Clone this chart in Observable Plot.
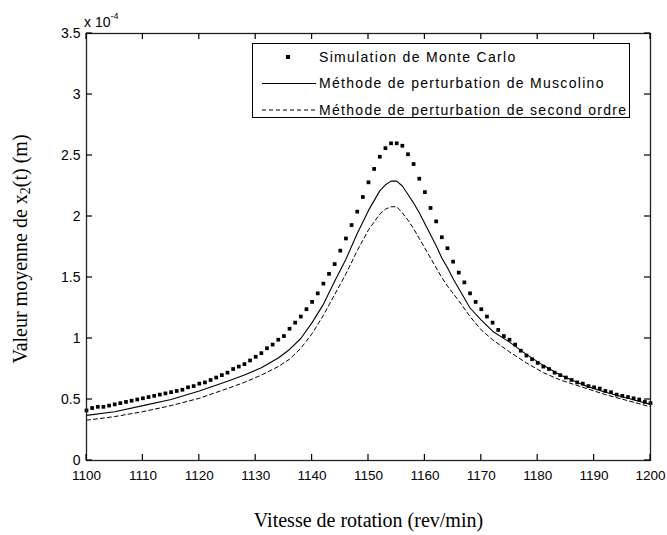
<!DOCTYPE html>
<html><head><meta charset="utf-8">
<script src="https://cdn.jsdelivr.net/npm/d3@7"></script>
<script src="https://cdn.jsdelivr.net/npm/@observablehq/plot@0.6"></script>
<style>body{margin:0;background:#fff} svg{display:block}</style>
</head><body><div id="chart"></div>
<script>
// ---- data (y in units of 1e-4 m) ----
const seriesNames = ["Simulation de Monte Carlo", "Méthode de perturbation de Muscolino", "Méthode de perturbation de second ordre"];

const mcSpeed = [1100,1101,1102,1103,1104,1105,1106,1107,1108,1109,1110,1111,1112,1113,1114,1115,1116,1117,1118,1119,
  1120,1121,1122,1123,1124,1125,1126,1127,1128,1129,1130,1131,1132,1133,1134,1135,1136,1137,1138,1139,
  1140,1141,1142,1143,1144,1145,1146,1147,1148,1149,1150,1151,1152,1153,1154,1155,1156,1157,1158,1159,
  1160,1161,1162,1163,1164,1165,1166,1167,1168,1169,1170,1171,1172,1173,1174,1175,1176,1177,1178,1179,
  1180,1181,1182,1183,1184,1185,1186,1187,1188,1189,1190,1191,1192,1193,1194,1195,1196,1197,1198,1199,1200];
const mcValue = [0.41,0.43,0.44,0.44,0.45,0.46,0.47,0.48,0.49,0.50,0.51,0.52,0.53,0.54,0.55,0.56,0.57,0.58,0.60,0.61,
  0.63,0.64,0.66,0.68,0.70,0.72,0.75,0.77,0.79,0.82,0.85,0.88,0.92,0.95,0.99,1.02,1.08,1.13,1.18,1.24,
  1.30,1.37,1.45,1.53,1.61,1.72,1.82,1.93,2.04,2.16,2.28,2.39,2.49,2.56,2.60,2.60,2.58,2.51,2.43,2.31,
  2.20,2.07,1.96,1.83,1.74,1.63,1.54,1.46,1.37,1.30,1.24,1.18,1.13,1.07,1.02,0.99,0.95,0.90,0.86,0.83,
  0.80,0.77,0.75,0.72,0.70,0.68,0.66,0.64,0.63,0.61,0.60,0.59,0.57,0.56,0.54,0.53,0.52,0.51,0.50,0.48,0.47];

const muscSpeed = [1100,1105,1110,1115,1120,1125,1128,1131,1134,1136,1138,1140,1142,1144,1146,1148,1150,1152,1153,1154,
  1155,1156,1157,1158,1159,1160,1161,1162,1163,1164,1165,1166,1168,1170,1172,1175,1178,1181,1184,1188,1192,1196,1200];
const muscValue = [0.37,0.40,0.45,0.50,0.57,0.65,0.70,0.76,0.84,0.91,1.00,1.13,1.28,1.47,1.65,1.86,2.05,2.21,2.26,2.29,
  2.29,2.25,2.18,2.11,2.03,1.94,1.85,1.76,1.66,1.58,1.49,1.41,1.25,1.15,1.06,0.97,0.87,0.78,0.70,0.62,0.56,0.51,0.46];

const secSpeed = [1100,1105,1110,1115,1120,1125,1128,1131,1134,1136,1138,1140,1142,1144,1146,1148,1150,1152,1153,1154,
  1155,1156,1157,1158,1159,1160,1161,1162,1163,1164,1166,1168,1170,1172,1175,1178,1181,1184,1188,1192,1196,1200];
const secValue = [0.33,0.36,0.40,0.45,0.51,0.59,0.64,0.70,0.77,0.83,0.92,1.04,1.19,1.36,1.53,1.72,1.89,2.02,2.06,2.08,
  2.08,2.03,1.97,1.90,1.82,1.74,1.66,1.58,1.50,1.43,1.31,1.18,1.07,0.99,0.89,0.80,0.72,0.66,0.60,0.54,0.49,0.44];

const xTicks = [1100,1110,1120,1130,1140,1150,1160,1170,1180,1190,1200];
const yTicks = [0,0.5,1,1.5,2,2.5,3,3.5];

// ---- tables ----
const mc = mcSpeed.map((s,i)=>({s, v: mcValue[i]}));
const musc = muscSpeed.map((s,i)=>({s, v: muscValue[i]}));
const sec = secSpeed.map((s,i)=>({s, v: secValue[i]}));

const sans = "Liberation Sans, Arial, sans-serif";
const serif = "Liberation Serif, Times New Roman, serif";
const W = 667, H = 535, mL = 86, mR = 17, mT = 33, mB = 75;
const tk = 6;

const chart = Plot.plot({
  width: W, height: H,
  marginLeft: mL, marginRight: mR, marginTop: mT, marginBottom: mB,
  style: {background: "#fff", color: "#000"},
  x: {domain: [1100, 1200]},
  y: {domain: [0, 3.5]},
  marks: [
    Plot.line(sec, {x: "s", y: "v", stroke: "#000", strokeWidth: 1, strokeDasharray: "4,3"}),
    Plot.line(musc, {x: "s", y: "v", stroke: "#000", strokeWidth: 1.1}),
    Plot.dot(mc, {x: "s", y: "v", symbol: "square", r: 2.1, fill: "#000", stroke: "none"}),
    Plot.frame({stroke: "#222", strokeWidth: 1.3}),
    Plot.axisX({ticks: xTicks, anchor: "bottom", tickSize: 0, tickPadding: 10, label: null, tickFormat: d => String(d), fontSize: 13.5, fontFamily: sans}),
    Plot.axisY({ticks: yTicks, anchor: "left", tickSize: 0, tickPadding: 6, label: null, tickFormat: d => String(d), fontSize: 14, fontFamily: sans}),
    Plot.text(["Vitesse de rotation (rev/min)"], {text: d => d, frameAnchor: "bottom", dy: 60, lineAnchor: "middle", fontSize: 20, fontFamily: serif, fill: "#000"})
  ]
});
document.getElementById("chart").append(chart);

const svg = d3.select(chart);

// inward ticks on all four sides, positioned with the plot's own scales
const psx = chart.scale("x"), psy = chart.scale("y");
const sx = d3.scaleLinear(psx.domain, psx.range);
const sy = d3.scaleLinear(psy.domain, psy.range);
const [x0, x1] = psx.range, [y0, y1] = psy.range; // y0 = bottom, y1 = top
const tg = svg.append("g").attr("stroke", "#000").attr("stroke-width", 1.2);
xTicks.forEach(v => {
  const x = sx(v);
  tg.append("line").attr("x1", x).attr("x2", x).attr("y1", y0).attr("y2", y0 - tk);
  tg.append("line").attr("x1", x).attr("x2", x).attr("y1", y1).attr("y2", y1 + tk);
});
yTicks.forEach(v => {
  const y = sy(v);
  tg.append("line").attr("y1", y).attr("y2", y).attr("x1", x0).attr("x2", x0 + tk);
  tg.append("line").attr("y1", y).attr("y2", y).attr("x1", x1).attr("x2", x1 - tk);
});

// y label with subscript
const yl = svg.append("text")
  .attr("transform", "translate(22,249) rotate(-90)")
  .attr("text-anchor", "middle").attr("dominant-baseline", "middle")
  .attr("font-family", serif).attr("font-size", 20).attr("fill", "#000");
yl.append("tspan").text("Valeur moyenne de x");
yl.append("tspan").attr("font-size", 14).attr("dy", 5).text("2");
yl.append("tspan").attr("dy", -5).text("(t) (m)");

// exponent label
const ex = svg.append("text").attr("x", 84).attr("y", 27).attr("text-anchor", "start")
  .attr("font-family", sans).attr("font-size", 14).attr("fill", "#000");
ex.append("tspan").text("x 10");
ex.append("tspan").attr("font-size", 9).attr("dy", -8).text("-4");

// legend
const lg = svg.append("g").attr("font-family", sans).attr("font-size", 14).attr("fill", "#000")
  .attr("text-anchor", "start");
lg.append("rect").attr("x", 252.5).attr("y", 43.5).attr("width", 377).attr("height", 74)
  .attr("fill", "#fff").attr("stroke", "#000").attr("stroke-width", 1);
const rowY = [57, 83.5, 110];
seriesNames.forEach((name, i) => {
  const y = rowY[i];
  if (i === 0) {
    lg.append("rect").attr("x", 286).attr("y", y - 2).attr("width", 4).attr("height", 4).attr("fill", "#000");
  } else {
    lg.append("line").attr("x1", 262).attr("x2", 316).attr("y1", y).attr("y2", y)
      .attr("stroke", "#000").attr("stroke-width", 1)
      .attr("stroke-dasharray", i === 2 ? "4,3" : null);
  }
  lg.append("text").attr("x", 319).attr("y", y).attr("dy", "0.35em")
    .attr("letter-spacing", 1.3).text(name);
});
</script>
</body></html>
